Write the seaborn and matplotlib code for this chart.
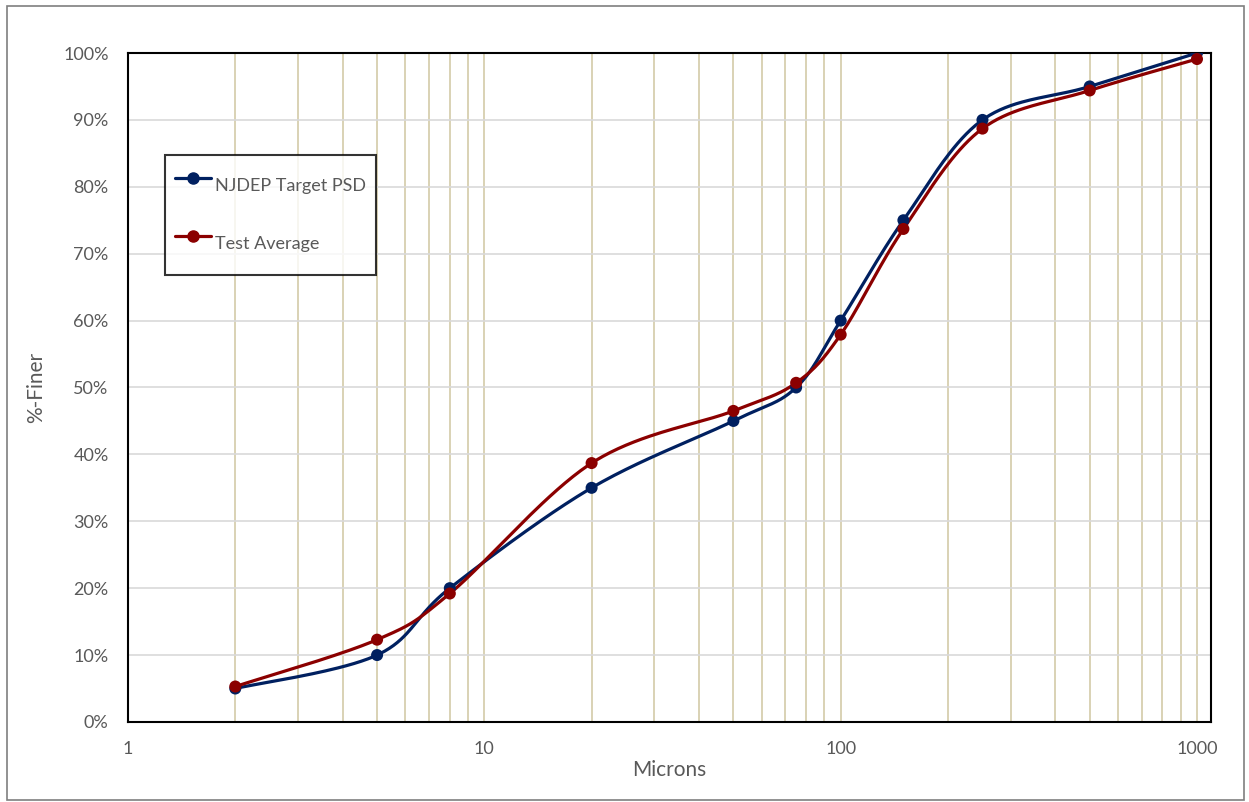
import numpy as np
import pandas as pd
import seaborn as sns
import matplotlib.pyplot as plt
from matplotlib.lines import Line2D
from matplotlib.ticker import PercentFormatter, FixedLocator, NullFormatter

# Particle size data (microns) and percent finer
microns = [2, 5, 8, 20, 50, 75, 100, 150, 250, 500, 1000]
target_psd = [5, 10, 20, 35, 45, 50, 60, 75, 90, 95, 100]
test_avg = [5.3, 12.3, 19.2, 38.7, 46.5, 50.7, 57.9, 73.7, 88.7, 94.4, 99.1]

blue = '#002060'
red = '#8B0000'
grey_text = '#595959'


def smooth_curve(xs, ys, n=40):
    # Excel-style smoothed line: Catmull-Rom bezier through points, in log-x space
    px = np.log10(np.array(xs, dtype=float))
    py = np.array(ys, dtype=float)
    out_x, out_y = [], []
    t = np.linspace(0, 1, n)
    for i in range(len(px) - 1):
        p0 = (px[i - 1], py[i - 1]) if i > 0 else (px[i], py[i])
        p1 = (px[i], py[i])
        p2 = (px[i + 1], py[i + 1])
        p3 = (px[i + 2], py[i + 2]) if i + 2 < len(px) else (px[i + 1], py[i + 1])
        c1 = (p1[0] + (p2[0] - p0[0]) / 6, p1[1] + (p2[1] - p0[1]) / 6)
        c2 = (p2[0] - (p3[0] - p1[0]) / 6, p2[1] - (p3[1] - p1[1]) / 6)
        bx = ((1 - t) ** 3 * p1[0] + 3 * (1 - t) ** 2 * t * c1[0]
              + 3 * (1 - t) * t ** 2 * c2[0] + t ** 3 * p2[0])
        by = ((1 - t) ** 3 * p1[1] + 3 * (1 - t) ** 2 * t * c1[1]
              + 3 * (1 - t) * t ** 2 * c2[1] + t ** 3 * p2[1])
        out_x.extend(bx)
        out_y.extend(by)
    return 10 ** np.array(out_x), np.array(out_y)


pts = pd.DataFrame({'Microns': microns * 2,
                    'Finer': target_psd + test_avg,
                    'Series': ['NJDEP Target PSD'] * len(microns) + ['Test Average'] * len(microns)})

sns.set_style('white')
plt.rcParams['font.family'] = ['Lato', 'DejaVu Sans']

fig = plt.figure(figsize=(12.49, 8.02), dpi=100)
ax = fig.add_axes([0.1025, 0.0998, 0.8671, 0.8341])

ax.set_xscale('log')

# grid lines
ax.xaxis.set_minor_locator(FixedLocator([m * 10 ** e for e in range(0, 3) for m in range(2, 10)]))
ax.grid(True, which='both', axis='x', color='#D3CBA8', linewidth=1.2)
ax.grid(True, which='major', axis='y', color='#D9D9D9', linewidth=1.2)
ax.set_axisbelow(True)

for name, vals, col in (('NJDEP Target PSD', target_psd, blue), ('Test Average', test_avg, red)):
    sx, sy = smooth_curve(microns, vals)
    sns.lineplot(x=sx, y=sy, color=col, linewidth=2.3, sort=False, ax=ax, zorder=3)

sns.scatterplot(data=pts, x='Microns', y='Finer', hue='Series',
                palette=[blue, red], s=75, edgecolor='none', legend=False, ax=ax, zorder=4)

ax.set_xlim(1, 1095)
ax.set_ylim(0, 100)

ax.set_yticks(range(0, 101, 10))
ax.yaxis.set_major_formatter(PercentFormatter(decimals=0))
ax.set_xticks([1, 10, 100, 1000])
ax.set_xticklabels(['1', '10', '100', '1000'])
ax.xaxis.set_minor_formatter(NullFormatter())

ax.tick_params(axis='both', labelsize=13, colors=grey_text)
ax.tick_params(axis='x', which='major', length=6, color='black', direction='out', pad=8)
ax.tick_params(axis='x', which='minor', length=6, color='black', direction='out')
ax.tick_params(axis='y', length=0, pad=14)

for s in ax.spines.values():
    s.set_color('black')
    s.set_linewidth(1.5)

ax.set_xlabel('Microns', fontsize=15, color=grey_text, labelpad=2)
ax.set_ylabel('%-Finer', fontsize=15, color=grey_text, labelpad=12)

handles = [Line2D([0], [0], color=blue, lw=2.3, marker='o', markersize=8),
           Line2D([0], [0], color=red, lw=2.3, marker='o', markersize=8)]
leg = ax.legend(handles, ['NJDEP Target PSD', 'Test Average'],
                loc='upper left', bbox_to_anchor=(0.034, 0.8475), borderaxespad=0,
                fontsize=13, frameon=True, fancybox=False, edgecolor='black',
                labelspacing=0.9, handleheight=3.2, handlelength=2.0,
                handletextpad=0.25, borderpad=0.55, labelcolor=grey_text)
leg.get_frame().set_linewidth(1.5)

# outer chart border
fig.patches.append(plt.Rectangle((0.006, 0.002), 0.99, 0.99, transform=fig.transFigure,
                                 fill=False, edgecolor='#7F7F7F', linewidth=1.2))

fig.savefig('out.png', dpi=100)
